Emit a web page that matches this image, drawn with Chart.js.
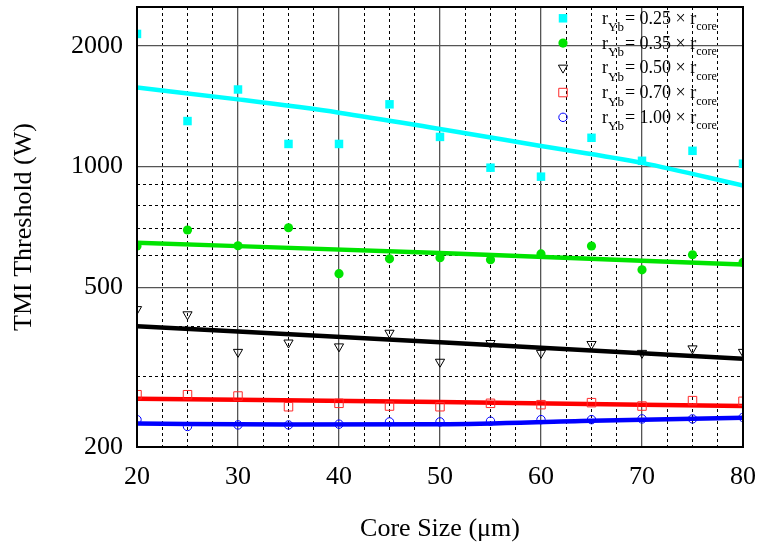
<!DOCTYPE html>
<html>
<head>
<meta charset="utf-8">
<script src="https://cdn.jsdelivr.net/npm/chart.js@4/dist/chart.umd.min.js"></script>
<style>
  html, body { margin: 0; padding: 0; background: #fff; }
  #wrap { width: 760px; height: 548px; }
</style>
</head>
<body>
<div id="wrap"><canvas id="c" width="760" height="548"></canvas></div>
<script>
// Core sizes (µm) at which the TMI threshold was evaluated
const coreSizes = [20, 25, 30, 35, 40, 45, 50, 55, 60, 65, 70, 75, 80];

// TMI threshold (W) for each Yb-doping radius ratio
const r025 = [2142, 1299, 1557, 1139, 1139, 1430, 1186, 994, 944, 1180, 1034, 1095, 1017];
const r035 = [634, 695, 635, 704, 541, 589, 593, 586, 606, 634, 553, 603, 577];
const r050 = [441, 428, 345, 364, 356, 385, 326, 363, 343, 361, 343, 352, 345];
const r070 = [270, 270, 268, 252, 257, 253, 252, 257, 255, 258, 253, 261, 260];
const r100 = [234, 225, 227, 227, 228, 231, 231, 232, 234, 234, 235, 235, 237];

// Fitted trend lines
const fit025X = [20, 30, 40, 50, 60, 70, 80];
const fit025 = [1575, 1471, 1363, 1241, 1126, 1022, 897];
const fit035X = [20, 50, 80];
const fit035 = [646, 609, 570];
const fit050X = [20, 50, 80];
const fit050 = [400, 365, 332];
const fit070X = [20, 50, 80];
const fit070 = [264, 259, 253];
const fit100X = [20, 35, 50, 65, 80];
const fit100 = [229, 227.5, 228, 232.6, 236.6];

// Axis ticks
const xMajorStep = 10;
const xMinorStep = 2.5;
const yMajorTicks = [200, 500, 1000, 2000];
const yMinorTicks = [300, 400, 600, 700, 800, 900];
const ratioLabels = ['0.25', '0.35', '0.50', '0.70', '1.00'];

const SERIF = "'Liberation Serif', 'Times New Roman', Times, serif";

function pts(xs, ys) { return xs.map((x, i) => ({ x: x, y: ys[i] })); }
function noPad(s) { s.paddingTop = 0; s.paddingBottom = 0; s.paddingLeft = 0; s.paddingRight = 0; }

const markerStyles = [
  { pointStyle: 'rect', radius: 6, bg: '#00ffff', border: '#00ffff', bw: 0, rot: 0 },
  { pointStyle: 'circle', radius: 4.6, bg: '#00e400', border: '#00e400', bw: 0, rot: 0 },
  { pointStyle: 'triangle', radius: 5.3, bg: 'rgba(0,0,0,0)', border: '#000000', bw: 1, rot: 180 },
  { pointStyle: 'rect', radius: 6, bg: 'rgba(0,0,0,0)', border: '#ff2a2a', bw: 1, rot: 0 },
  { pointStyle: 'circle', radius: 4.2, bg: 'rgba(0,0,0,0)', border: '#0000ff', bw: 1, rot: 0 }
];
const lineColors = ['#00ffff', '#00e400', '#000000', '#ff0000', '#0000ff'];
const series = [r025, r035, r050, r070, r100];
const fits = [[fit025X, fit025], [fit035X, fit035], [fit050X, fit050], [fit070X, fit070], [fit100X, fit100]];

const datasets = [];
fits.forEach((f, i) => {
  datasets.push({
    type: 'line',
    data: pts(f[0], f[1]),
    borderColor: lineColors[i],
    borderWidth: 4.5,
    pointRadius: 0,
    fill: false,
    cubicInterpolationMode: 'monotone',
    clip: 0,
    order: 2
  });
});
series.forEach((s, i) => {
  const m = markerStyles[i];
  datasets.push({
    type: 'scatter',
    data: pts(coreSizes, s),
    pointStyle: m.pointStyle,
    pointRadius: m.radius,
    pointHoverRadius: m.radius,
    pointRotation: m.rot,
    pointBackgroundColor: m.bg,
    pointBorderColor: m.border,
    pointBorderWidth: m.bw,
    showLine: false,
    clip: 0,
    order: 1
  });
});

// Closed black frame around the plotting area
const framePlugin = {
  id: 'frame',
  afterDatasetsDraw(chart) {
    const a = chart.chartArea, ctx = chart.ctx;
    ctx.save();
    ctx.strokeStyle = '#000';
    ctx.lineWidth = 2;
    ctx.strokeRect(a.left, a.top, a.right - a.left, a.bottom - a.top);
    ctx.restore();
  }
};

// Legend with subscripted labels: r_Yb = k × r_core
const legendPlugin = {
  id: 'subLegend',
  afterDraw(chart) {
    const ctx = chart.ctx;
    const markerX = 563, textX = 602, y0 = 18.3, dy = 24.75;
    ctx.save();
    ratioLabels.forEach((lab, i) => {
      const m = markerStyles[i];
      const cy = y0 + i * dy;
      ctx.fillStyle = m.bg;
      ctx.strokeStyle = m.border;
      ctx.lineWidth = m.bw;
      Chart.helpers.drawPoint(ctx, {
        pointStyle: m.pointStyle, radius: m.radius, rotation: m.rot, borderWidth: m.bw
      }, markerX, cy);
      const base = cy + 5.5;
      let x = textX;
      ctx.fillStyle = '#000';
      ctx.textBaseline = 'alphabetic';
      ctx.textAlign = 'left';
      ctx.font = '18px ' + SERIF;
      ctx.fillText('r', x, base); x += ctx.measureText('r').width;
      ctx.font = '13px ' + SERIF;
      ctx.fillText('Yb', x, base + 7.5); x += ctx.measureText('Yb').width + 1;
      ctx.font = '18px ' + SERIF;
      const mid = '= ' + lab + ' \u00d7 r';
      ctx.fillText(mid, x, base); x += ctx.measureText(mid).width;
      ctx.font = '12px ' + SERIF;
      ctx.fillText('core', x, base + 6.5);
    });
    ctx.restore();
  }
};

new Chart(document.getElementById('c'), {
  data: { datasets: datasets },
  options: {
    responsive: false,
    animation: false,
    devicePixelRatio: 1,
    layout: { padding: { left: 0, right: 17, top: 4, bottom: 0 } },
    plugins: { legend: { display: false }, tooltip: { enabled: false } },
    scales: {
      xMinor: {
        type: 'linear', position: 'bottom', min: 20, max: 80,
        ticks: { display: false, stepSize: xMinorStep, autoSkip: false },
        afterBuildTicks(s) { s.ticks = s.ticks.filter(t => t.value % xMajorStep !== 0); },
        grid: { color: '#000', lineWidth: 1, drawTicks: false },
        border: { display: false, dash: [3, 3] },
        afterFit(s) { s.height = 0; noPad(s); }
      },
      yMinor: {
        type: 'logarithmic', position: 'left', min: 200, max: 2500,
        ticks: { display: false, autoSkip: false },
        afterBuildTicks(s) { s.ticks = yMinorTicks.map(v => ({ value: v })); },
        grid: { color: '#000', lineWidth: 1, drawTicks: false },
        border: { display: false, dash: [3, 3] },
        afterFit(s) { s.width = 0; noPad(s); }
      },
      x: {
        type: 'linear', position: 'bottom', min: 20, max: 80,
        ticks: {
          stepSize: xMajorStep, autoSkip: false, padding: 15, color: '#000',
          font: { family: SERIF, size: 26 }, maxRotation: 0
        },
        grid: { color: '#555', lineWidth: 1.3, drawTicks: false },
        border: { display: false },
        title: {
          display: true, text: 'Core Size (\u03bcm)', color: '#000',
          font: { family: SERIF, size: 26, lineHeight: 1 },
          padding: { top: 0, bottom: 6 }
        },
        afterFit(s) { s.height = 101; noPad(s); }
      },
      y: {
        type: 'logarithmic', position: 'left', min: 200, max: 2500,
        afterBuildTicks(s) { s.ticks = yMajorTicks.map(v => ({ value: v })); },
        ticks: {
          autoSkip: false, padding: 14, color: '#000',
          font: { family: SERIF, size: 26 },
          callback: v => String(v)
        },
        grid: { color: '#555', lineWidth: 1.3, drawTicks: false },
        border: { display: false },
        title: {
          display: true, text: 'TMI Threshold (W)', color: '#000',
          font: { family: SERIF, size: 26, lineHeight: 1 },
          padding: { top: 11, bottom: 0 }
        },
        afterFit(s) { s.width = 137; noPad(s); }
      }
    }
  },
  plugins: [framePlugin, legendPlugin]
});
</script>
</body>
</html>
